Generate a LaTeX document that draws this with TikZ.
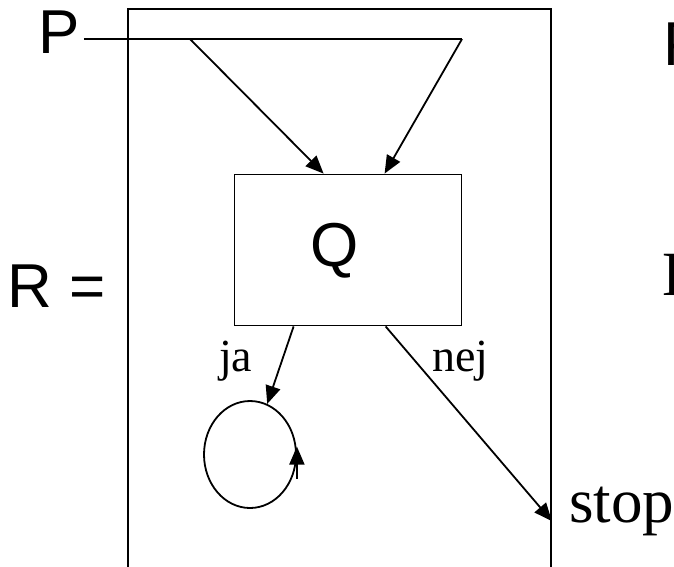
\documentclass[tikz,border=0pt]{standalone}
\usepackage{fontspec}
\setmainfont{Liberation Serif}
\newfontfamily\sansfont{Liberation Sans}
\usetikzlibrary{arrows.meta,positioning,shapes.geometric}

\begin{document}
\begin{tikzpicture}[
    x = 1pt, y = -1pt,
    every node/.style = {inner sep=0pt},
    bigsans/.style = {font=\sansfont\fontsize{62}{62}\selectfont},
    bigserif/.style = {font=\fontsize{63}{63}\selectfont},
    smallserif/.style = {font=\fontsize{46}{46}\selectfont},
    outerbox/.style = {
        rectangle,
        draw,
        line width=1.8pt,
        minimum width=423pt,
        minimum height=591pt
    },
    box/.style = {
        rectangle,
        draw,
        line width=1.8pt,
        minimum width=227pt,
        minimum height=151pt
    },
    loopshape/.style = {
        ellipse,
        draw,
        line width=1.8pt,
        minimum width=92pt,
        minimum height=107pt
    },
    arrow/.style = {
        -{Triangle[length=18pt,width=15pt]},
        line width=1.8pt
    }
]

\useasboundingbox (0,0) rectangle (674,566);
\clip (0,0) rectangle (674,566);

\node[outerbox] (frame) at (339.5,304.5) {};
\node[box] (Q) at (348,250) {};
\node[bigsans, anchor=base] (qtext) at (335,266) {Q};
\node[loopshape] (loop) at (250,454.5) {};

\node[bigsans, anchor=base west] (P) at (38,53) {P};
\node[bigsans, anchor=base west] (R) at (7,307) {R =};
\node[smallserif, anchor=base west] (ja) at (219,371) {ja};
\node[smallserif, anchor=base west] (nej) at (432,371) {nej};
\node[bigserif, anchor=base west] (stop) at (569,522) {stop};
\node[bigsans, anchor=base west] (rtop) at (663,65) {P};
\node[bigserif, anchor=base west] (rmid) at (662,295) {D};

\coordinate (pl) at (190,39);
\coordinate (pr) at (462,39);

% input line from P
\draw[line width=1.8pt] ([xshift=4pt,yshift=14pt]P.base east) -- (pr);
\draw[arrow] (pl) -- ([xshift=90pt]Q.north west);
\draw[arrow] (pr) -- ([xshift=151pt]Q.north west);

% outputs of Q
\draw[arrow] ([xshift=60pt]Q.south west) -- (loop);
\draw[arrow] ([xshift=152pt]Q.south west) -- ([yshift=-513pt]frame.north east);
\draw[arrow] ([yshift=-24pt]loop.east) -- ([yshift=8pt]loop.east);

\end{tikzpicture}
\end{document}
